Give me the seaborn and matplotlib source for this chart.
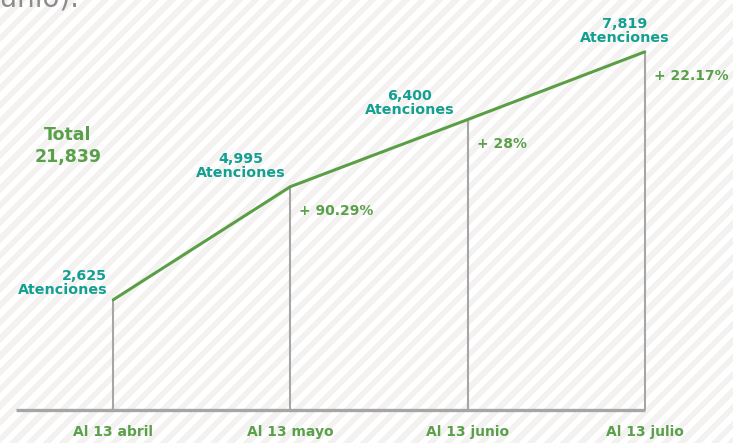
import numpy as np
import pandas as pd
import matplotlib
matplotlib.use('Agg')
import matplotlib.pyplot as plt
import matplotlib.transforms as mtransforms
import seaborn as sns

# datos
fechas = ['Al 13 abril', 'Al 13 mayo', 'Al 13 junio', 'Al 13 julio']
atenciones = [2625, 4995, 6400, 7819]
etiquetas = ['2,625\nAtenciones', '4,995\nAtenciones', '6,400\nAtenciones', '7,819\nAtenciones']
crecimiento = ['', '+ 90.29%', '+ 28%', '+ 22.17%']
total = 'Total\n21,839'

VERDE = '#5a9f46'
VERDE_TXT = '#5aa04a'
TEAL = '#14a091'
GRIS = '#a6a6a6'

sns.set_theme(style='white')
plt.rcParams['font.family'] = ['DejaVu Sans']

df = pd.DataFrame({'pos': np.arange(len(fechas)), 'atenciones': atenciones})

W, H = 733, 443
fig = plt.figure(figsize=(W / 100, H / 100), dpi=100)

# fondo rayado diagonal
filas, cols = np.mgrid[0:H, 0:W]
periodo = 16.7
franja = ((filas + cols) % periodo) < periodo * 0.5
fondo = np.ones((H, W, 3))
fondo[franja] = np.array([243, 242, 240]) / 255
fig.figimage(fondo, 0, 0, origin='upper', zorder=-5)

ax = fig.add_axes([0, 0, 1, 1])
ax.patch.set_alpha(0)

base = 316
ax.hlines(base, -0.55, len(fechas) - 1, color=GRIS, lw=2.4, zorder=2)
ax.vlines(df['pos'], base, df['atenciones'], color=GRIS, lw=1.5, zorder=2)
sns.lineplot(data=df, x='pos', y='atenciones', color=VERDE, lw=2.2, ax=ax, zorder=3)

# etiquetas de valores (desplazamientos en px)
desp = [(-6, 3, 'right'), (-50, 7, 'center'), (-58, 3, 'center'), (-20, 7, 'center')]
for i, (dx, dy, ha) in enumerate(desp):
    ax.annotate(etiquetas[i], (df['pos'][i], df['atenciones'][i]),
                xytext=(dx * 0.72, dy * 0.72), textcoords='offset points',
                ha=ha, va='bottom', fontsize=10.3, fontweight='bold', color=TEAL,
                linespacing=0.95, zorder=4)
    if crecimiento[i]:
        ax.annotate(crecimiento[i], (df['pos'][i], df['atenciones'][i]),
                    xytext=(9 * 0.72, -24 * 0.72), textcoords='offset points',
                    ha='left', va='center', fontsize=10, fontweight='bold',
                    color=VERDE_TXT, zorder=4)

ax.text(68 / W, 1 - 146 / H, total, transform=ax.transAxes, ha='center',
        va='center', fontsize=12.5, fontweight='bold', color=VERDE_TXT,
        linespacing=1.3)

# etiquetas del eje x
tr = mtransforms.blended_transform_factory(ax.transData, ax.transAxes)
for i, f in enumerate(fechas):
    ax.text(i, 1 - 432 / H, f, transform=tr, ha='center', va='center',
            fontsize=10, fontweight='bold', color=VERDE_TXT)

# fragmento del titulo recortado
fig.text(80 / W, 1 - 7 / H, '(junio).', ha='right', va='baseline',
         fontsize=20, color='#8c8c8c')

ax.set_xlim(-0.639, 3.498)
ax.set_ylim(-375, 8905)
ax.axis('off')

fig.savefig('out.png', dpi=100)
